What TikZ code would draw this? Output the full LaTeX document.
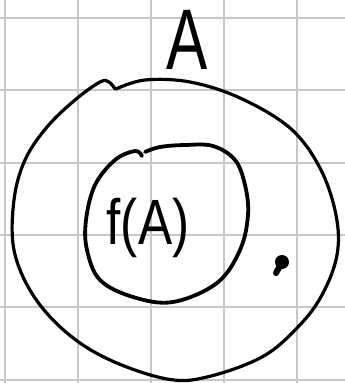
\documentclass[tikz,border=0pt]{standalone}
\usepackage{fontspec}
\setmainfont{Liberation Sans}
\begin{document}
\begin{tikzpicture}[x=1pt,y=-1pt,
  gridline/.style={draw=black!22,line width=1.4pt},
  pen/.style={draw=black,line width=3.2pt,line cap=round,line join=round},
  hand/.style={inner sep=0pt,text=black}]
\useasboundingbox[fill=white] (0,0) rectangle (345,383);
% grid
\foreach \gx in {5,78,151,224,297} \draw[gridline] (\gx,0) -- (\gx,383);
\foreach \gy in {18,90,163,235,307,380} \draw[gridline] (0,\gy) -- (345,\gy);
% outer set
\draw[pen] plot[smooth,tension=0.6] coordinates {(116,89) (145,80) (190,82) (240,98) (290,128) (320,168) (336,215) (337,255) (322,295) (298,327) (262,357) (207,377) (167,379) (110,360) (67,333) (33,295) (14,250) (14,200) (25,160) (47,127) (75,100) (100,82) (109,82) (115,89)};
% inner set
\draw[pen,line width=3.8pt] plot[smooth,tension=0.6] coordinates {(145,152) (160,147) (185,145) (213,146) (235,160) (245,185) (248,215) (240,250) (217,283) (173,302) (133,297) (100,280) (87,250) (86,220) (95,185) (115,160) (135,151) (142,156)};
% labels
\node[hand,xscale=0.72,font=\fontsize{86}{86}\selectfont] (labA) at (187,40) {A};
\node[hand,xscale=0.8,font=\fontsize{64}{64}\selectfont] (labfA) at (148,228) {f(A)};
% point
\fill[black] (282,262) circle [radius=7pt];
\draw[pen,line width=6pt] (281,264) -- (276,273);
\end{tikzpicture}
\end{document}
